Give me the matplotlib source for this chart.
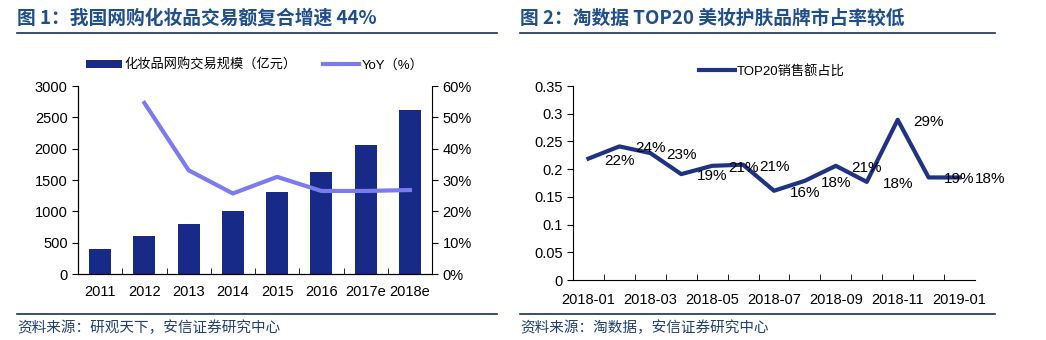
import matplotlib
matplotlib.use("Agg")
import matplotlib.pyplot as plt
from matplotlib.lines import Line2D
from matplotlib.ticker import FuncFormatter

plt.rcParams["font.family"] = ["Liberation Sans", "Noto Sans CJK SC", "DejaVu Sans"]

# chart 1 data
years = ["2011", "2012", "2013", "2014", "2015", "2016", "2017e", "2018e"]
sales = [393, 605, 796, 998, 1301, 1635, 2066, 2623]
yoy = [None, 54.6, 33.1, 25.7, 31.0, 26.5, 26.5, 26.8]

# chart 2 data
months = ["2018-01", "2018-02", "2018-03", "2018-04", "2018-05", "2018-06", "2018-07",
          "2018-08", "2018-09", "2018-10", "2018-11", "2018-12", "2019-01"]
top20_share = [0.219, 0.241, 0.229, 0.191, 0.206, 0.208, 0.161, 0.179, 0.206, 0.177,
               0.289, 0.185, 0.185]
top20_labels = ["22%", "24%", "23%", "19%", "21%", "21%", "16%", "18%", "21%", "18%",
                "29%", "19%", "18%"]

W, H = 1046, 340
BAR_C = "#172A88"
YOY_C = "#7B7BEF"
LINE_C = "#1F3384"
TITLE_C = "#1F4E8C"
SRC_C = "#1F3F7A"
CJK = ["Noto Sans CJK SC", "DejaVu Sans"]

fig = plt.figure(figsize=(W / 100, H / 100), dpi=100)


def px_axes(x0, y0, x1, y1):
    return fig.add_axes([x0 / W, (H - y1) / H, (x1 - x0) / W, (y1 - y0) / H])


def hline(x0, x1, y):
    fig.add_artist(Line2D([x0 / W, x1 / W], [(H - y) / H, (H - y) / H],
                          transform=fig.transFigure, color="#1A2F5A", lw=1.2))


# titles and rules
fig.text(17 / W, (H - 18) / H, "图 1：我国网购化妆品交易额复合增速 44%", color=TITLE_C,
         fontsize=13.5, fontweight="bold", va="center", ha="left", family=CJK)
fig.text(520 / W, (H - 18) / H, "图 2：淘数据 TOP20 美妆护肤品牌市占率较低", color=TITLE_C,
         fontsize=13.5, fontweight="bold", va="center", ha="left", family=CJK)
hline(17, 497, 33)
hline(520, 995, 33)
hline(17, 497, 314)
hline(520, 995, 314)
fig.text(17 / W, (H - 328) / H, "资料来源：研观天下，安信证券研究中心", color=SRC_C,
         fontsize=10.5, va="center", ha="left", style="italic", family=CJK)
fig.text(520 / W, (H - 328) / H, "资料来源：淘数据，安信证券研究中心", color=SRC_C,
         fontsize=10.5, va="center", ha="left", style="italic", family=CJK)

# ---- chart 1
ax = px_axes(78, 86, 432, 274)
xs = list(range(len(years)))
ax.bar(xs, sales, width=0.5, color=BAR_C, label="化妆品网购交易规模（亿元）")
ax.set_xlim(-0.5, len(years) - 0.5)
ax.set_ylim(0, 3000)
ax.set_yticks(range(0, 3001, 500))
ax.set_xticks(xs)
ax.set_xticklabels(years)
ax.set_xticks([i + 0.5 for i in xs[:-1]], minor=True)
ax.tick_params(axis="x", which="major", length=0, labelsize=10.5, pad=8)
ax.tick_params(axis="x", which="minor", length=4, direction="in")
ax.tick_params(axis="y", labelsize=10.5, length=4, direction="out")
ax.spines["top"].set_visible(False)
ax.spines["right"].set_visible(False)

ax2 = ax.twinx()
yx = [i for i, v in zip(xs, yoy) if v is not None]
yv = [v for v in yoy if v is not None]
ax2.plot(yx, yv, color=YOY_C, lw=3, label="YoY（%）")
ax2.set_ylim(0, 60)
ax2.set_yticks(range(0, 61, 10))
ax2.yaxis.set_major_formatter(FuncFormatter(lambda v, p: "%d%%" % v))
ax2.tick_params(axis="y", labelsize=10.5, length=4, direction="out")
ax2.spines["top"].set_visible(False)

h1, l1 = ax.get_legend_handles_labels()
h2, l2 = ax2.get_legend_handles_labels()
ax.legend(h1 + h2, l1 + l2, loc="center", bbox_to_anchor=(0.5, 1 + 21 / 188), ncol=2,
          frameon=False, fontsize=9.5, handlelength=2.7, handleheight=0.6,
          columnspacing=2.0, handletextpad=0.2, borderaxespad=0.0)

# ---- chart 2
bx = px_axes(573, 86, 975, 280)
mx = list(range(len(months)))
bx.plot(mx, top20_share, color=LINE_C, lw=3, label="TOP20销售额占比")
for x, v, t in zip(mx, top20_share, top20_labels):
    bx.annotate(t, (x, v), xytext=(31, -2), textcoords="offset pixels",
                ha="center", va="center", fontsize=11)
bx.set_xlim(-0.5, len(months) - 0.5)
bx.set_ylim(0, 0.35)
bx.set_yticks([0, 0.05, 0.1, 0.15, 0.2, 0.25, 0.3, 0.35])
bx.set_yticklabels(["0", "0.05", "0.1", "0.15", "0.2", "0.25", "0.3", "0.35"])
bx.set_xticks(mx[::2])
bx.set_xticklabels(months[::2])
bx.set_xticks([i + 0.5 for i in mx[:-1]], minor=True)
bx.tick_params(axis="x", which="major", length=0, labelsize=10.5, pad=9)
bx.tick_params(axis="x", which="minor", length=4, direction="in")
bx.tick_params(axis="y", labelsize=10.5, length=4, direction="out")
bx.spines["top"].set_visible(False)
bx.spines["right"].set_visible(False)
bx.legend(loc="center", bbox_to_anchor=(0.495, 1 + 15 / 194), frameon=False, fontsize=9.5,
          handlelength=2.7, handletextpad=0.2, borderaxespad=0.0)

fig.savefig("out.png", dpi=100)
